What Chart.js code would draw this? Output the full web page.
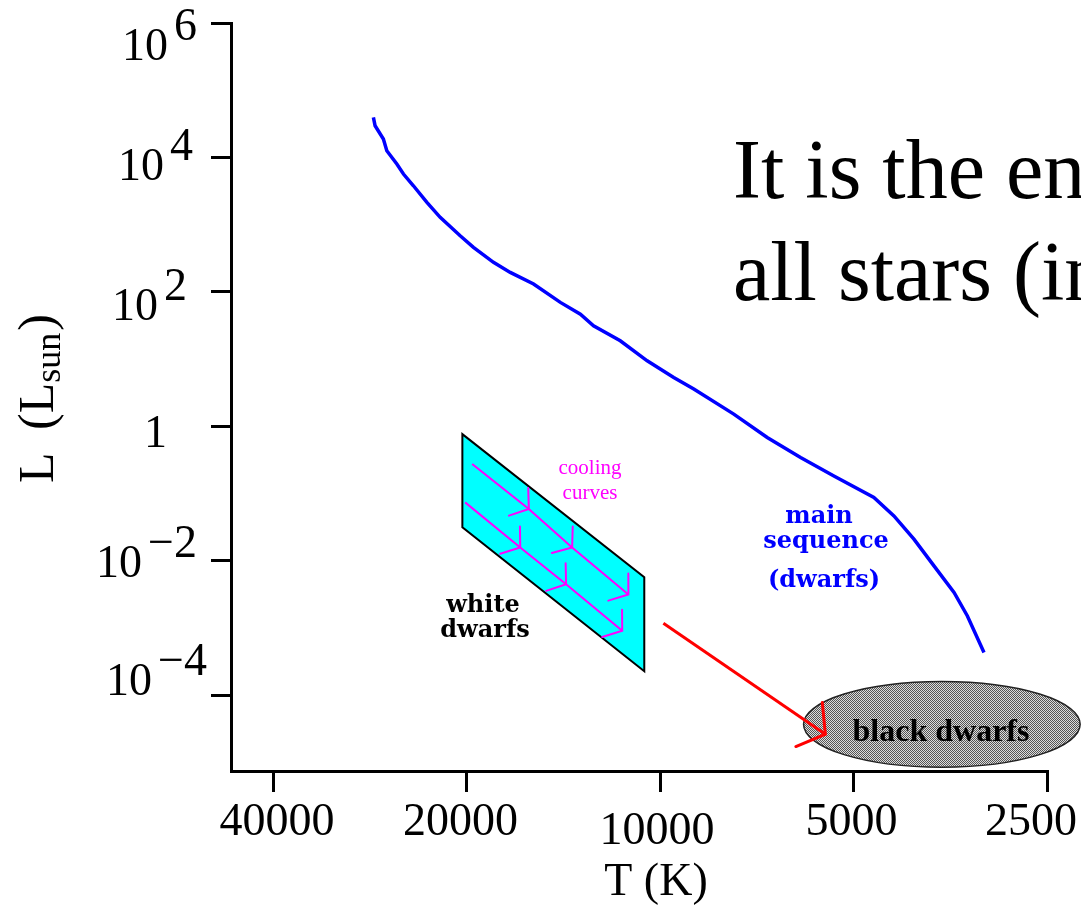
<!DOCTYPE html>
<html><head><meta charset="utf-8">
<script src="https://cdn.jsdelivr.net/npm/chart.js@4.4.1/dist/chart.umd.min.js"></script>
<style>html,body{margin:0;padding:0;background:#fff;overflow:hidden}canvas{display:block}</style>
</head><body>
<canvas id="c" width="1081" height="910"></canvas>
<script>
// ---- data ----
const xTickValues = [40000, 20000, 10000, 5000, 2500];
const xTickLabels = ['40000', '20000', '10000', '5000', '2500'];
const yTickValues = [1e6, 1e4, 1e2, 1, 1e-2, 1e-4];
const yTickBase = ['10', '10', '10', '1', '10', '10'];
const yTickExp = ['6', '4', '2', '', '\u22122', '\u22124'];

// main sequence: temperature (K) and luminosity (L_sun)
const msT = [27920, 27750, 26940, 26610, 25670, 25070, 24190, 23050, 21980, 20460, 19510, 18160, 17100, 15730, 14290, 13300, 12690, 11530, 10470, 9521, 8861, 7678, 6811, 6044, 5364, 4648, 4326, 4027, 3748, 3488, 3325, 3133];
const msL = [39540, 29630, 18780, 12580, 7976, 5662, 3793, 2147, 1284, 683, 459, 275, 195, 131, 69.8, 46.7, 31.3, 18.7, 9.43, 5.34, 3.58, 1.52, 0.684, 0.345, 0.183, 0.0875, 0.0466, 0.0210, 0.0084, 0.00338, 0.00151, 0.000432];

// white dwarf cooling curves
const cool1T = [19600, 16000, 13700, 11200];
const cool1L = [0.275, 0.059, 0.0158, 0.00316];
const cool2T = [20100, 16500, 14000, 11450];
const cool2L = [0.074, 0.0158, 0.00447, 0.000912];

// white dwarf region (parallelogram corners)
const wdT = [20300, 20300, 10580, 10580];
const wdL = [0.766, 0.0316, 0.000228, 0.0057];

// arrow toward black dwarfs
const arrowT = [9880, 5530];
const arrowL = [0.00118, 0.0000263];

// black dwarf region extents
const bdT = [5980, 2220];
const bdL = [0.00016, 0.0000085];

// ---- drawing ----
const SERIF = "'Liberation Serif', 'Times New Roman', serif";
const DSERIF = "'DejaVu Serif', serif";

const pc = document.createElement('canvas');
pc.width = 2; pc.height = 2;
const pctx = pc.getContext('2d');
pctx.fillStyle = '#dcdcdc'; pctx.fillRect(0, 0, 2, 2);
pctx.fillStyle = '#555555'; pctx.fillRect(0, 0, 1, 1); pctx.fillRect(1, 1, 1, 1);

function arrowHead(ctx, x0, y0, x1, y1, len, color, width) {
  const back = Math.atan2(y0 - y1, x0 - x1);
  const a1 = back + 50 * Math.PI / 180, a2 = back - 57 * Math.PI / 180;
  ctx.save();
  ctx.strokeStyle = color; ctx.lineWidth = width; ctx.lineCap = 'round';
  ctx.beginPath();
  ctx.moveTo(x1 + len * Math.cos(a1), y1 + len * Math.sin(a1));
  ctx.lineTo(x1, y1);
  ctx.lineTo(x1 + len * Math.cos(a2), y1 + len * Math.sin(a2));
  ctx.stroke();
  ctx.restore();
}

const annot = {
  id: 'annot',
  beforeDatasetsDraw(chart) {
    const { ctx, scales: { x, y } } = chart;
    ctx.save();
    // white dwarf parallelogram
    ctx.beginPath();
    wdT.forEach((t, i) => {
      const px = x.getPixelForValue(t), py = y.getPixelForValue(wdL[i]);
      if (i) ctx.lineTo(px, py); else ctx.moveTo(px, py);
    });
    ctx.closePath();
    ctx.fillStyle = '#00ffff'; ctx.fill();
    ctx.lineWidth = 2; ctx.strokeStyle = '#000'; ctx.stroke();
    // black dwarf ellipse
    const x1 = x.getPixelForValue(bdT[0]), x2 = x.getPixelForValue(bdT[1]);
    const y1 = y.getPixelForValue(bdL[0]), y2 = y.getPixelForValue(bdL[1]);
    ctx.beginPath();
    ctx.ellipse((x1 + x2) / 2, (y1 + y2) / 2, Math.abs(x2 - x1) / 2, Math.abs(y2 - y1) / 2, 0, 0, Math.PI * 2);
    ctx.fillStyle = ctx.createPattern(pc, 'repeat'); ctx.fill();
    ctx.lineWidth = 1.5; ctx.strokeStyle = '#222'; ctx.stroke();
    ctx.restore();
  },
  afterDatasetsDraw(chart) {
    const { ctx } = chart;
    chart.data.datasets.forEach((ds, di) => {
      if (!ds.arrowLen) return;
      const pts = chart.getDatasetMeta(di).data;
      for (let i = 1; i < pts.length; i++) {
        if (ds.arrowLastOnly && i !== pts.length - 1) continue;
        arrowHead(ctx, pts[i - 1].x, pts[i - 1].y, pts[i].x, pts[i].y, ds.arrowLen, ds.borderColor, ds.borderWidth);
      }
    });
  },
  afterDraw(chart) {
    const { ctx, scales: { x, y } } = chart;
    const o = chart.options.plugins.annot;
    ctx.save();
    ctx.fillStyle = '#000';
    ctx.textBaseline = 'alphabetic';
    // y tick labels
    yTickValues.forEach((v, i) => {
      const py = y.getPixelForValue(v) + o.yLabelDy[i];
      ctx.font = '46px ' + SERIF;
      const wb = ctx.measureText(yTickBase[i]).width;
      const we = yTickExp[i] ? ctx.measureText(yTickExp[i]).width + 6 : 0;
      const left = o.yLabelRight[i] - wb - we;
      ctx.textAlign = 'left';
      ctx.fillText(yTickBase[i], left, py);
      if (yTickExp[i]) ctx.fillText(yTickExp[i], left + wb + 6, py - 20);
    });
    // x tick labels
    ctx.font = '46px ' + SERIF;
    ctx.textAlign = 'center';
    xTickValues.forEach((v, i) => {
      ctx.fillText(xTickLabels[i], x.getPixelForValue(v) + o.xLabelDx[i], x.top + 64 + o.xLabelDy[i]);
    });
    // x title
    ctx.fillText('T (K)', 656, 895);
    // y title (rotated)
    ctx.save();
    ctx.translate(53, 483);
    ctx.rotate(-Math.PI / 2);
    ctx.textAlign = 'left';
    ctx.font = '50px ' + SERIF;
    ctx.fillText('L', 0, 0);
    let cx = 53;
    ctx.fillText('(L', cx, 0);
    cx += ctx.measureText('(L').width;
    ctx.font = '36px ' + SERIF;
    ctx.fillText('sun', cx, 7);
    cx += ctx.measureText('sun').width;
    ctx.font = '50px ' + SERIF;
    ctx.fillText(')', cx + 2, 0);
    ctx.restore();
    // annotations
    ctx.textAlign = 'center';
    ctx.fillStyle = '#ff00ff';
    ctx.font = '21px ' + SERIF;
    ctx.fillText('cooling', 590, 474);
    ctx.fillText('curves', 590, 499);
    ctx.fillStyle = '#000';
    ctx.font = 'bold 24px ' + DSERIF;
    ctx.fillText('white', 483, 612);
    ctx.fillText('dwarfs', 485, 637);
    ctx.fillStyle = '#0000ff';
    ctx.font = 'bold 24px ' + DSERIF;
    ctx.fillText('main', 819, 523);
    ctx.fillText('sequence', 826, 548);
    ctx.fillText('(dwarfs)', 824, 587);
    ctx.fillStyle = '#000';
    ctx.font = 'bold 32px ' + SERIF;
    ctx.fillText('black dwarfs', 941, 741);
    // slide text (cut off at right edge)
    ctx.textAlign = 'left';
    ctx.font = '84px ' + SERIF;
    ctx.fillText('It is the en', 733, 198);
    ctx.fillText('all stars (in', 733, 300);
    ctx.restore();
  }
};

const toPts = (T, L) => T.map((t, i) => ({ x: t, y: L[i] }));

new Chart(document.getElementById('c'), {
  type: 'scatter',
  data: {
    datasets: [
      { label: 'main sequence', data: toPts(msT, msL), showLine: true, borderColor: '#0000ff', borderWidth: 3.5, pointRadius: 0, tension: 0 },
      { label: 'cooling curve 1', data: toPts(cool1T, cool1L), showLine: true, borderColor: '#ff00ff', borderWidth: 2, pointRadius: 0, arrowLen: 21 },
      { label: 'cooling curve 2', data: toPts(cool2T, cool2L), showLine: true, borderColor: '#ff00ff', borderWidth: 2, pointRadius: 0, arrowLen: 21 },
      { label: 'to black dwarfs', data: toPts(arrowT, arrowL), showLine: true, borderColor: '#ff0000', borderWidth: 3, pointRadius: 0, arrowLen: 32, arrowLastOnly: true }
    ]
  },
  options: {
    responsive: false,
    animation: false,
    events: [],
    layout: { padding: { top: 23, right: 34, left: 0, bottom: 0 } },
    plugins: {
      legend: { display: false },
      tooltip: { enabled: false },
      annot: {
        yLabelRight: [197, 193, 187, 167, 197, 207],
        yLabelDy: [37, 23, 28, 21, 16, 0],
        xLabelDx: [4, -6, -3, -2, -16],
        xLabelDy: [0, 0, 9, 0, 0]
      }
    },
    scales: {
      x: {
        type: 'logarithmic', reverse: true, min: 2500, max: 46500, position: 'bottom',
        afterBuildTicks: s => { s.ticks = xTickValues.map(v => ({ value: v })); },
        afterFit: s => { s.height = 139; },
        ticks: { display: false },
        grid: { drawOnChartArea: false, drawTicks: true, tickLength: 21, tickWidth: 3, tickColor: '#000', color: '#000', lineWidth: 3 },
        border: { display: true, color: '#000', width: 3 }
      },
      y: {
        type: 'logarithmic', min: Math.pow(10, -5.127), max: 1e6, position: 'left',
        afterBuildTicks: s => { s.ticks = yTickValues.map(v => ({ value: v })); },
        afterFit: s => { s.width = 231; },
        ticks: { display: false },
        grid: { drawOnChartArea: false, drawTicks: true, tickLength: 20, tickWidth: 3, tickColor: '#000', color: '#000', lineWidth: 3 },
        border: { display: true, color: '#000', width: 3 }
      }
    }
  },
  plugins: [annot]
});
</script>
</body></html>
